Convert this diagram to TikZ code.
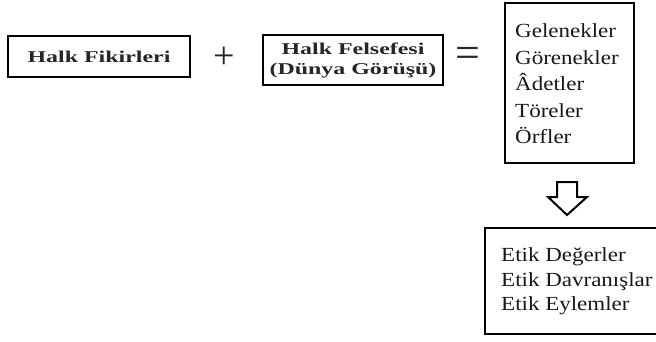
\documentclass[tikz,border=0pt]{standalone}
\usepackage{fontspec}
\setmainfont{Liberation Serif}
\newfontfamily\wideserif[FakeStretch=1.45]{Liberation Serif}
\newfontfamily\listserif[FakeStretch=1.15]{Liberation Serif}
\begin{document}
\begin{tikzpicture}[x=1pt,y=-1pt,
  frame/.style={draw=black,line width=2.8pt,inner sep=0pt},
  lefttext/.style={text=black!85,font=\wideserif\bfseries\fontsize{16.5}{20}\selectfont,align=center,inner sep=0pt},
  listtext/.style={text=black!90,font=\listserif\fontsize{20}{26.6}\selectfont,align=left,inner sep=0pt,anchor=north west},
  optext/.style={text=black!85,inner sep=0pt}]
\useasboundingbox (0,0) rectangle (656,341);
\clip (0,0) rectangle (656,341);
\fill[white] (0,0) rectangle (656,341);
% left boxes
\node[frame,minimum width=182pt,minimum height=41pt] (hfbox) at (99,56.5) {};
\node[lefttext] (hftext) at (hfbox.center) {Halk Fikirleri};
\node[optext,font=\fontsize{38}{38}\selectfont] (plus) at (224,58) {+};
\node[frame,minimum width=180pt,minimum height=50pt] (hfelbox) at (353,60) {};
\node[lefttext] (hfeltext) at (hfelbox.center) {Halk Felsefesi\\(Dünya Görüşü)};
\node[optext,font=\fontsize{44}{44}\selectfont] (eq) at (468,57) {=};
% right upper box
\node[frame,minimum width=129pt,minimum height=160pt] (gbox) at (569.5,83) {};
\node[listtext] (gtext) at (515,23.5) {Gelenekler\\Görenekler\\Âdetler\\Töreler\\Örfler};
% open arrow
\draw[line width=2pt,line join=miter] (557,182) -- (577,182) -- (577,197) -- (587,197) -- (567,215) -- (548,197) -- (557,197) -- cycle;
% right lower box
\node[frame,minimum width=190pt,minimum height=106pt] (ebox) at (580,281) {};
\node[listtext,font=\listserif\fontsize{20}{24.5}\selectfont] (etext) at (501,247.5) {Etik Değerler\\Etik Davranışlar\\Etik Eylemler};
\end{tikzpicture}
\end{document}
